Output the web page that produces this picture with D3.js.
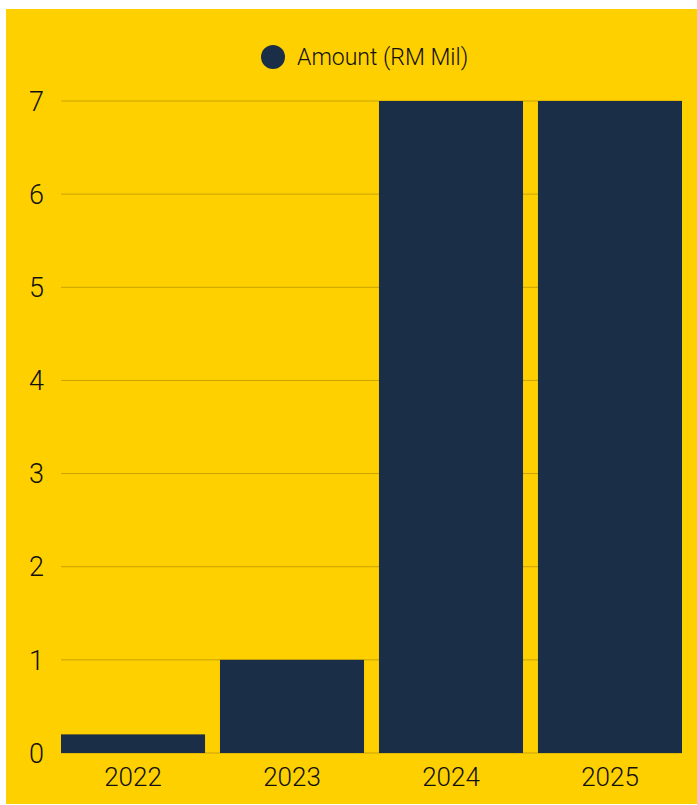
<!DOCTYPE html>
<html>
  <head>
    <meta charset="UTF-8" />
    <style>
      body { margin: 0; background: #fff; }
      svg { display: block; }
      text { font-family: Roboto, "Noto Sans", sans-serif; font-weight: 300; fill: #111; }
    </style>
  </head>
  <body>
    <svg></svg>
    <script src="https://d3js.org/d3.v7.min.js"></script>
    <script>
      // data
      var years = ["2022", "2023", "2024", "2025"];
      var amounts = [0.2, 1, 7, 7];
      var yTicks = [0, 1, 2, 3, 4, 5, 6, 7];
      var seriesName = "Amount (RM Mil)";

      var width = 697, height = 805;
      var navy = "#1a2e47", yellow = "#ffd000";

      var svg = d3.select("svg").attr("width", width).attr("height", height);

      // yellow panel
      svg.append("rect")
        .attr("x", 6).attr("y", 9)
        .attr("width", width - 6).attr("height", height - 10)
        .attr("fill", yellow);

      var margin = { left: 61, right: 15, top: 101, bottom: 52 };

      var x = d3.scaleBand()
        .domain(years)
        .range([margin.left, width - margin.right])
        .paddingInner(0.094)
        .paddingOuter(0);

      var y = d3.scaleLinear()
        .domain([0, 7])
        .range([height - margin.bottom, margin.top]);

      // gridlines
      svg.append("g")
        .selectAll("line")
        .data(yTicks)
        .enter()
        .append("line")
        .attr("x1", margin.left)
        .attr("x2", width - margin.right)
        .attr("y1", d => y(d))
        .attr("y2", d => y(d))
        .attr("stroke", "#c9a300")
        .attr("stroke-width", 1);

      // y labels
      svg.append("g")
        .selectAll("text")
        .data(yTicks)
        .enter()
        .append("text")
        .attr("x", 44)
        .attr("y", d => y(d))
        .attr("dy", "0.36em")
        .attr("text-anchor", "end")
        .style("font-size", "27px")
        .text(d => d);

      // bars
      svg.append("g")
        .selectAll("rect")
        .data(amounts)
        .enter()
        .append("rect")
        .attr("x", (d, i) => x(years[i]))
        .attr("y", d => y(d))
        .attr("width", x.bandwidth())
        .attr("height", d => y(0) - y(d))
        .attr("fill", navy);

      // x labels
      svg.append("g")
        .selectAll("text")
        .data(years)
        .enter()
        .append("text")
        .attr("x", d => x(d) + x.bandwidth() / 2)
        .attr("y", 786)
        .attr("text-anchor", "middle")
        .style("font-size", "26px")
        .text(d => d);

      // legend
      var legend = svg.append("g");
      legend.append("circle")
        .attr("cx", 273).attr("cy", 57).attr("r", 12)
        .attr("fill", navy);
      legend.append("text")
        .attr("x", 297).attr("y", 57)
        .attr("dy", "0.36em")
        .style("font-size", "23px")
        .text(seriesName);
    </script>
  </body>
</html>
